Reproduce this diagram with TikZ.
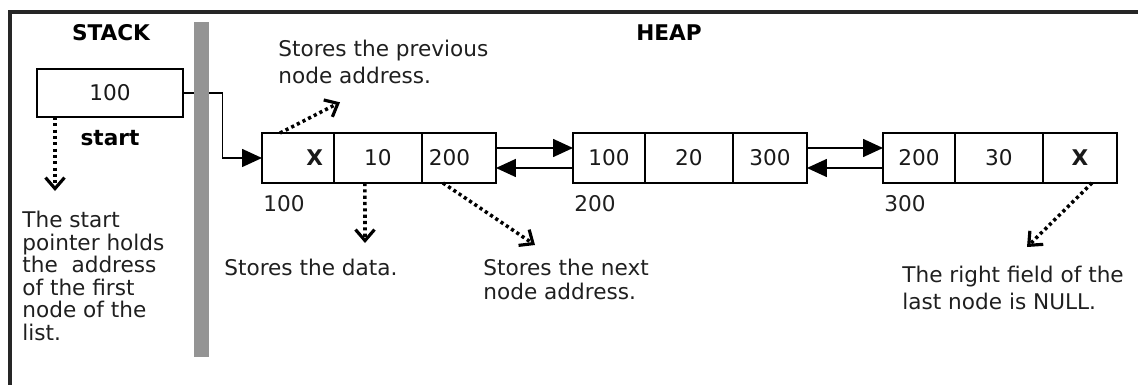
\documentclass[tikz,border=0pt]{standalone}
\usepackage{fontspec}
\setmainfont{DejaVu Sans}
\usepackage{tikz}
\usetikzlibrary{calc, positioning, arrows.meta}

\begin{document}
\begin{tikzpicture}[
        x=0.02cm, y=-0.02cm,
        cell_box/.style={draw, rectangle, line width=0.8pt, outer sep=0pt, inner sep=0pt, minimum height=1cm, font=\fontsize{12.3}{14}\selectfont, text=black!90},
        stack_box/.style={draw, rectangle, line width=0.8pt, outer sep=0pt, inner sep=0pt, minimum width=2.92cm, minimum height=0.96cm, font=\fontsize{12.3}{14}\selectfont, text=black!90},
        title_text/.style={font=\fontsize{12.3}{14}\selectfont\bfseries, text=black},
        note_text/.style={font=\fontsize{12.3}{14}\selectfont, text=black!88, align=left, anchor=north west, inner sep=0pt},
        addr_text/.style={font=\fontsize{12.3}{14}\selectfont, text=black!88, anchor=north west, inner sep=0pt},
        arrow/.style={-{Triangle[length=0.4cm, width=0.36cm]}, line width=0.9pt},
        dotted_arrow/.style={-{Straight Barb[length=0.22cm, width=0.38cm, line width=1.8pt]}, line width=2pt, dash pattern=on 1.8pt off 1.8pt}
    ]

    \useasboundingbox (0,0) rectangle (1138,385);

    % ==================== Frame ====================
    \draw[line width=0.065cm, black!85] (1138,12) -- (10,12) -- (10,385);

    % ==================== Stack Side ====================
    \node[title_text] (stack_title) at (111,33) {STACK};
    \node[stack_box, anchor=north west] (stack) at (37,69) {100};
    \node[title_text] (start_label) at (110,138) {start};
    \node[note_text, font=\fontsize{12.3}{12.8}\selectfont] (start_note) at (22,211)
        {The start\\pointer holds\\the~ address\\of the first\\node of the\\list.};

    % ==================== Heap Side ====================
    \node[title_text] (heap_title) at (669,33) {HEAP};

    % Node 1
    \node[cell_box, anchor=north west, minimum width=1.44cm, text width=1cm, align=right] (n1a) at (262,133) {\textbf{X}};
    \node[cell_box, right=0pt of n1a, minimum width=1.76cm] (n1b) {10};
    \node[cell_box, right=0pt of n1b, minimum width=1.48cm, text width=1.2cm, align=left] (n1c) {200};

    % Node 2
    \node[cell_box, anchor=north west, minimum width=1.44cm] (n2a) at (573,133) {100};
    \node[cell_box, right=0pt of n2a, minimum width=1.76cm] (n2b) {20};
    \node[cell_box, right=0pt of n2b, minimum width=1.48cm] (n2c) {300};

    % Node 3
    \node[cell_box, anchor=north west, minimum width=1.44cm] (n3a) at (883,133) {200};
    \node[cell_box, right=0pt of n3a, minimum width=1.76cm] (n3b) {30};
    \node[cell_box, right=0pt of n3b, minimum width=1.48cm] (n3c) {\textbf{X}};

    % Addresses
    \node[addr_text] (addr1) at ($(n1a.south west)+(1,12)$) {100};
    \node[addr_text] (addr2) at ($(n2a.south west)+(1,12)$) {200};
    \node[addr_text] (addr3) at ($(n3a.south west)+(1,12)$) {300};

    % Notes
    \node[note_text, font=\fontsize{12.3}{15.3}\selectfont] (prev_note) at (278,40) {Stores the previous\\node address.};
    \node[note_text] (data_note) at (224,259) {Stores the data.};
    \node[note_text, font=\fontsize{12.3}{13.6}\selectfont] (next_note) at (483,259) {Stores the next\\node address.};
    \node[note_text, font=\fontsize{12.3}{15.3}\selectfont] (null_note) at (902,266) {The right field of the\\last node is NULL.};

    % Connections
    \draw[arrow] (stack.east) -| ($(stack.east)!0.5!(n1a.west)$) |- (n1a.west);

    \draw[arrow] ([yshift=0.2cm]n1c.east) -- ([yshift=0.2cm]n2a.west);
    \draw[arrow] ([yshift=-0.2cm]n2a.west) -- ([yshift=-0.2cm]n1c.east);
    \draw[arrow] ([yshift=0.2cm]n2c.east) -- ([yshift=0.2cm]n3a.west);
    \draw[arrow] ([yshift=-0.2cm]n3a.west) -- ([yshift=-0.2cm]n2c.east);

    % Pointers to notes
    \draw[dotted_arrow] ($(stack.south west)+(18,0)$) -- ($(start_note.north west)+(33,-20)$);
    \draw[dotted_arrow] ($(n1a.north west)+(18,0)$) -- ($(prev_note.south west)+(62,18)$);
    \draw[dotted_arrow] ($(n1b.south)+(-13,0)$) -- ($(data_note.north west)+(141,-16)$);
    \draw[dotted_arrow] ($(n1c.south west)+(21,0)$) -- ($(next_note.north west)+(52,-14)$);
    \draw[dotted_arrow] ($(n3c.south)+(12,0)$) -- ($(null_note.north west)+(125,-19)$);

    % ==================== Divider ====================
    \fill[black!42] (194,22) rectangle (209,357);

\end{tikzpicture}
\end{document}
